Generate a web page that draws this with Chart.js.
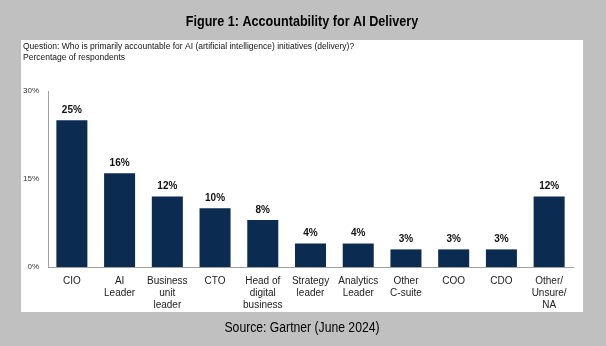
<!DOCTYPE html>
<html>
<head>
<meta charset="utf-8">
<script src="https://cdn.jsdelivr.net/npm/chart.js@4"></script>
<style>
  html, body { margin: 0; padding: 0; background: #c0c0c0; }
  canvas { display: block; }
</style>
</head>
<body>
<canvas id="chart" width="606" height="346"></canvas>
<script>
// ─── Data ─────────────────────────────────────────────────────────────────────
const categories = [
  'CIO', ['AI', 'Leader'], ['Business', 'unit', 'leader'], 'CTO',
  ['Head of', 'digital', 'business'], ['Strategy', 'leader'], ['Analytics', 'Leader'],
  ['Other', 'C-suite'], 'COO', 'CDO', ['Other/', 'Unsure/', 'NA'],
];
const shares   = [25, 16, 12, 10, 8, 4, 4, 3, 3, 3, 12];
const yTicks   = [0, 15, 30];

const TITLE    = 'Figure 1: Accountability for AI Delivery';
const QUESTION = 'Question: Who is primarily accountable for AI (artificial intelligence) initiatives (delivery)?';
const SUBTITLE = 'Percentage of respondents';
const SOURCE   = 'Source: Gartner (June 2024)';

const NAVY = '#0b2b50';
const FONT = '"Liberation Sans", Arial, sans-serif';

// narrow-looking text: squeeze horizontally around the centre point
function narrowText(ctx, text, x, y, squeeze) {
  ctx.save();
  ctx.translate(x, y);
  ctx.scale(squeeze, 1);
  ctx.fillText(text, 0, 0);
  ctx.restore();
}

// ─── Frame: grey page, white panel, texts ────────────────────────────────────
const framePlugin = {
  id: 'frame',
  beforeDraw(chart) {
    const { ctx } = chart;
    ctx.save();
    ctx.fillStyle = '#c0c0c0';
    ctx.fillRect(0, 0, chart.width, chart.height);
    ctx.fillStyle = '#ffffff';
    ctx.fillRect(21, 40, 562, 272);

    ctx.fillStyle = '#000';
    ctx.textAlign = 'center';
    ctx.textBaseline = 'middle';
    ctx.font = `bold 15px ${FONT}`;
    narrowText(ctx, TITLE, 302, 22, 0.84);
    ctx.font = `14px ${FONT}`;
    narrowText(ctx, SOURCE, 302, 328, 0.87);

    ctx.textAlign = 'left';
    ctx.font = `8.5px ${FONT}`;
    ctx.fillStyle = '#111';
    ctx.fillText(QUESTION, 23, 47);
    ctx.fillText(SUBTITLE, 23, 58);
    ctx.restore();
  },
};

const valueLabels = {
  id: 'valueLabels',
  afterDatasetsDraw(chart) {
    const { ctx } = chart;
    const meta = chart.getDatasetMeta(0);
    ctx.save();
    ctx.fillStyle = '#111';
    ctx.font = `bold 10px ${FONT}`;
    ctx.textAlign = 'center';
    ctx.textBaseline = 'bottom';
    meta.data.forEach((bar, i) => {
      ctx.fillText(shares[i] + '%', bar.x, bar.y - 5);
    });
    ctx.restore();
  },
};

new Chart(document.getElementById('chart'), {
  type: 'bar',
  data: {
    labels: categories,
    datasets: [{
      data: shares,
      backgroundColor: NAVY,
      barPercentage: 0.65,
      categoryPercentage: 1,
    }],
  },
  options: {
    responsive: false,
    animation: false,
    layout: { padding: { left: 14, right: 33, top: 91, bottom: 27 } },
    plugins: { legend: { display: false }, tooltip: { enabled: false } },
    scales: {
      x: {
        grid: { display: false, drawTicks: false },
        border: { color: '#a0a0a0', width: 1 },
        ticks: { color: '#222', font: { family: FONT, size: 10 }, padding: 8, maxRotation: 0, autoSkip: false },
      },
      y: {
        min: 0, max: 30,
        afterBuildTicks: axis => { axis.ticks = yTicks.map(v => ({ value: v })); },
        grid: { display: false, drawTicks: false },
        border: { color: '#a0a0a0', width: 1 },
        ticks: { color: '#333', font: { family: FONT, size: 8 }, padding: 9, callback: v => v + '%' },
      },
    },
  },
  plugins: [framePlugin, valueLabels],
});
</script>
</body>
</html>
